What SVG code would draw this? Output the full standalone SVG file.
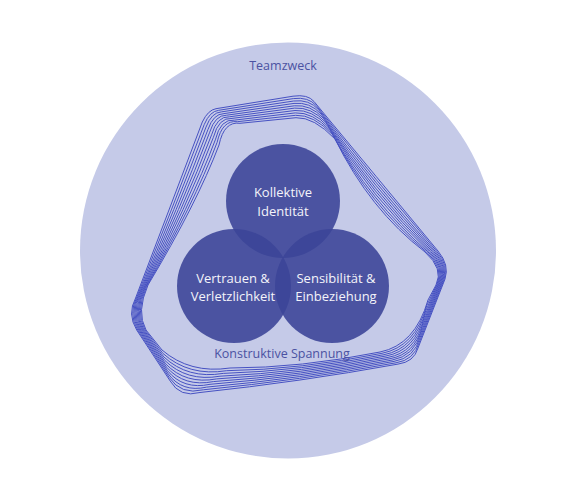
<svg xmlns="http://www.w3.org/2000/svg" width="575" height="499" viewBox="0 0 575 499">
<style>
.lbl{font-family:"Open Sans","Noto Sans","Liberation Sans",sans-serif;font-size:12.5px;text-anchor:middle}
.big{font-size:13px}
.dark{fill:#4B52A2}
.wt{fill:#F4F4FA}
.ring path{fill:none;stroke:#4651C2;stroke-width:1}
.node{fill:#3C4498;fill-opacity:0.89}
</style>
<rect width="575" height="499" fill="#FFFFFF"/>
<g id="teamzweck">
<circle cx="288" cy="250.5" r="208" fill="#C5CAE8"/>
<text class="lbl dark" x="283" y="70">Teamzweck</text>
</g>
<g id="konstruktive-spannung" class="ring">
<path d="M216,108.7 L293,96.2 Q307.7,94 314,101.5 Q376,176.3 438,251 Q449.7,265 445,279 L418,348 Q414,362 398,364.1 Q299,382 200,392.5 Q180,398 170.2,381 L136.7,330 Q127,314 135.6,298 Q169,210 202.3,122 Q208,110 216,108.7Z"/>
<path d="M218.7,110.3 L293.3,98.6 Q308.4,96.6 316.3,105.7 Q375.3,180 436.6,251.1 Q449.1,265.4 444,279.7 L419.1,342.7 Q414.1,360.1 396,362.8 Q299.1,380.4 203.3,389.8 Q181.1,395.3 169.3,377.6 L137.7,330 Q128,313.8 137,296.6 Q172.1,209.2 204.2,124.6 Q209.8,111.2 218.7,110.3Z"/>
<path d="M221.3,111.9 L293.7,101 Q309.1,99.1 318.7,109.8 Q374.7,183.8 435.1,251.2 Q448.4,265.9 443,280.3 L420.2,337.3 Q414.2,358.2 394,361.4 Q299.2,378.9 206.7,387.1 Q182.2,392.7 168.4,374.1 L138.8,330 Q129,313.6 138.4,295.1 Q175.2,208.4 206,127.1 Q211.6,112.4 221.3,111.9Z"/>
<path d="M224,113.6 L294,103.4 Q309.8,101.7 321,114 Q374,187.5 433.7,251.3 Q447.8,266.3 442,281 L421.3,332 Q414.3,356.3 392,360.1 Q299.3,377.3 210,384.3 Q183.3,390 167.5,370.7 L139.8,330 Q130,313.3 139.7,293.7 Q178.3,207.7 207.9,129.7 Q213.3,113.7 224,113.6Z"/>
<path d="M226.7,115.2 L294.3,105.8 Q310.5,104.2 323.3,118.2 Q373.3,191.3 432.2,251.4 Q447.2,266.8 441,281.7 L422.4,326.7 Q414.4,354.4 390,358.7 Q299.4,375.8 213.3,381.6 Q184.4,387.3 166.6,367.2 L140.8,330 Q131,313.1 141.1,292.2 Q181.4,206.9 209.7,132.2 Q215.1,114.9 226.7,115.2Z"/>
<path d="M229.3,116.8 L294.7,108.1 Q311.2,106.8 325.7,122.3 Q372.7,195 430.8,251.6 Q446.5,267.2 440,282.3 L423.6,321.3 Q414.6,352.6 388,357.4 Q299.6,374.2 216.7,378.9 Q185.6,384.7 165.6,363.8 L141.9,330 Q132,312.9 142.5,290.8 Q184.5,206.1 211.6,134.8 Q216.9,116.1 229.3,116.8Z"/>
<path d="M232,118.4 L295,110.5 Q311.9,109.3 328,126.5 Q372,198.8 429.3,251.7 Q445.9,267.7 439,283 L424.7,316 Q414.7,350.7 386,356 Q299.7,372.7 220,376.2 Q186.7,382 164.7,360.3 L142.9,330 Q133,312.7 143.9,289.3 Q187.6,205.3 213.4,137.3 Q218.7,117.3 232,118.4Z"/>
<path d="M234.7,120.1 L295.3,112.9 Q312.6,111.9 330.3,130.7 Q371.3,202.5 427.9,251.8 Q445.3,268.1 438,283.7 L425.8,310.7 Q414.8,348.8 384,354.7 Q299.8,371.1 223.3,373.4 Q187.8,379.3 163.8,356.9 L143.9,330 Q134,312.4 145.2,287.9 Q190.8,204.6 215.3,139.9 Q220.4,118.6 234.7,120.1Z"/>
<path d="M237.3,121.7 L295.7,115.3 Q313.3,114.4 332.7,134.8 Q370.7,206.3 426.4,251.9 Q444.6,268.6 437,284.3 L426.9,305.3 Q414.9,346.9 382,353.3 Q299.9,369.6 226.7,370.7 Q188.9,376.7 162.9,353.4 L145,330 Q135,312.2 146.6,286.4 Q193.9,203.8 217.1,142.4 Q222.2,119.8 237.3,121.7Z"/>
<path d="M240,123.3 L296,117.7 Q314,117 335,139 Q370,210 425,252 Q444,269 436,285 L428,300 Q415,345 380,352 Q300,368 230,368 Q190,374 162,350 L146,330 Q136,312 148,285 Q197,203 219,145 Q224,121 240,123.3Z"/>
<text class="lbl dark" x="282" y="358" stroke="none">Konstruktive Spannung</text>
</g>
<g id="connectors"></g>
<g id="kollektive-identitaet">
<circle class="node" cx="283" cy="201" r="57"/>
</g>
<g id="vertrauen">
<circle class="node" cx="234" cy="286" r="57"/>
</g>
<g id="sensibilitaet">
<circle class="node" cx="332" cy="286" r="57"/>
</g>
<g id="labels">
<text class="lbl big wt" x="283" y="197">Kollektive</text>
<text class="lbl big wt" x="283" y="216">Identität</text>
<text class="lbl big wt" x="233" y="283">Vertrauen &amp;</text>
<text class="lbl big wt" x="233" y="301">Verletzlichkeit</text>
<text class="lbl big wt" x="336" y="283">Sensibilität &amp;</text>
<text class="lbl big wt" x="336" y="301">Einbeziehung</text>
</g>
</svg>
